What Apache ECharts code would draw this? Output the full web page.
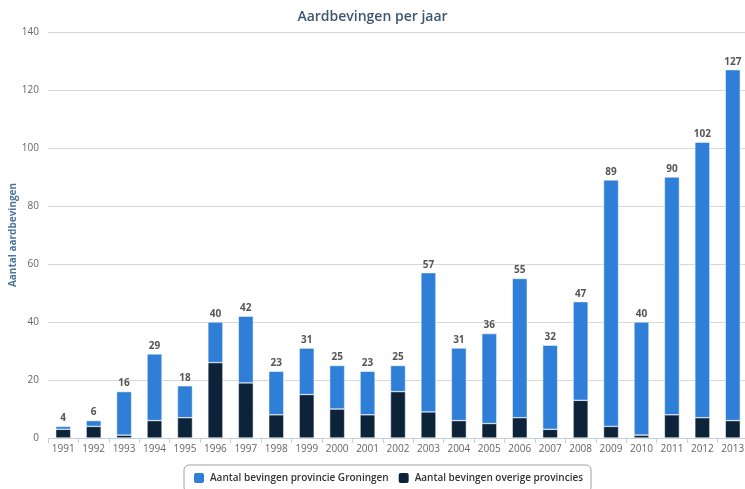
<!DOCTYPE html>
<html><head><meta charset="utf-8">
<script src="https://cdn.jsdelivr.net/npm/echarts@6/dist/echarts.min.js"></script>
<style>html,body{margin:0;padding:0;background:#fff}#c{width:745px;height:489px}</style>
</head><body><div id="c"></div>
<script>
const years = ['1991','1992','1993','1994','1995','1996','1997','1998','1999','2000','2001','2002','2003','2004','2005','2006','2007','2008','2009','2010','2011','2012','2013'];
const totals = [4,6,16,29,18,40,42,23,31,25,23,25,57,31,36,55,32,47,89,40,90,102,127];
const overige = [3,4,1,6,7,26,19,8,15,10,8,16,9,6,5,7,3,13,4,1,8,7,6];
const groningen = totals.map((t,i)=>t-overige[i]);
const yTicks = [0,20,40,60,80,100,120,140];

const chart = echarts.init(document.getElementById('c'));
chart.setOption({
  animation:false,
  title:{text:'Aardbevingen per jaar',left:'center',top:5,textStyle:{fontFamily:'Open Sans',fontSize:14,fontWeight:600,color:'#3e576f'}},
  grid:{left:48,right:-3,top:32,bottom:51,outerBoundsMode:'none',containLabel:false},
  legend:{bottom:-3,left:184,itemWidth:12,itemHeight:12,itemGap:8,icon:'roundRect',
    borderColor:'#a0a0a0',borderWidth:1,borderRadius:5,padding:[6,8,7,8],
    textStyle:{fontFamily:'Open Sans',fontSize:10,fontWeight:600,color:'#333'},
    data:['Aantal bevingen provincie Groningen','Aantal bevingen overige provincies']},
  xAxis:{type:'category',data:years,
    axisLine:{lineStyle:{color:'#c0d0e0'}},
    axisTick:{show:true,lineStyle:{color:'#c0d0e0'},length:5},
    axisLabel:{fontFamily:'Open Sans',fontSize:10,color:'#666',margin:6}},
  yAxis:{type:'value',min:yTicks[0],max:yTicks[yTicks.length-1],interval:20,
    name:'Aantal aardbevingen',nameLocation:'middle',nameGap:30,nameRotate:90,nameMoveOverlap:false,
    nameTextStyle:{fontFamily:'Open Sans',fontSize:10,fontWeight:'bold',color:'#4d759e'},
    axisLine:{show:false},axisTick:{show:false},
    axisLabel:{fontFamily:'Open Sans',fontSize:10,color:'#666',margin:9},
    splitLine:{lineStyle:{color:'#d8d8d8'}}},
  series:[
    {name:'Aantal bevingen overige provincies',type:'bar',stack:'a',data:overige,barWidth:15,
      itemStyle:{color:'#0d233a',borderColor:'#ffffff',borderWidth:0.5}},
    {name:'Aantal bevingen provincie Groningen',type:'bar',stack:'a',data:groningen,barWidth:15,
      itemStyle:{color:'#2f7ed8',borderColor:'#ffffff',borderWidth:0.5},
      label:{show:true,position:'top',distance:3,fontFamily:'Open Sans',fontSize:10,fontWeight:'bold',color:'#555',
        formatter:p=>totals[p.dataIndex]}}
  ]
});
</script></body></html>
